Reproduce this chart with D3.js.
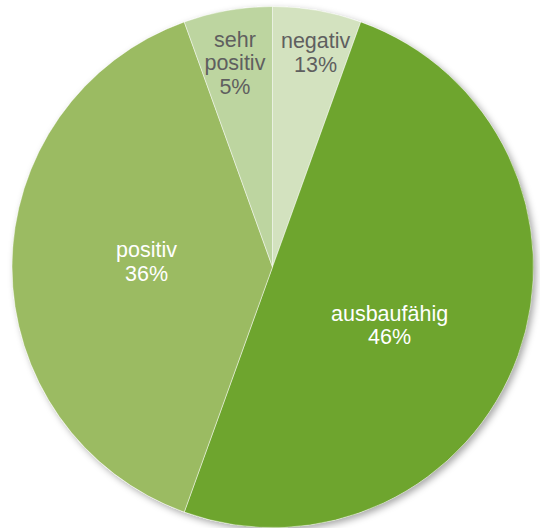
<!DOCTYPE html>
<html lang="de">
<head>
<meta charset="UTF-8">
<title>Pie</title>
<script src="https://d3js.org/d3.v7.min.js"></script>
<style>
  html, body { margin: 0; padding: 0; background: #fff; }
  text { font-family: "Liberation Sans", Arial, sans-serif; }
</style>
</head>
<body>
<div id="chart"></div>
<script>
// slice order clockwise from 12 o'clock
var categories = ["negativ", "ausbaufähig", "positiv", "sehr positiv"];
// slice sizes as drawn in the picture
var values = [5.5, 50, 39, 5.5];
// percentages printed on the labels
var percentLabels = ["13%", "46%", "36%", "5%"];

var colors = ["#d3e2bf", "#6ea52e", "#9bbb62", "#bdd5a0"];
var textColors = ["#5f5f5f", "#ffffff", "#ffffff", "#5f5f5f"];
// label placement: distance from centre and small nudges
var labelRadius = [210, 134, 126, 207];
var labelNudge = [[7, -2], [-9, 18], [0, 0], [-2, 5]];

var width = 540, height = 528,
  cx = 272.5, cy = 267, radius = 260.5;

var svg = d3.select('#chart').append('svg')
  .attr('width', width)
  .attr('height', height);

var defs = svg.append('defs');
var shadow = defs.append('filter')
  .attr('id', 'shadow')
  .attr('x', '-10%').attr('y', '-10%')
  .attr('width', '120%').attr('height', '120%');
shadow.append('feDropShadow')
  .attr('dx', 3).attr('dy', 3)
  .attr('stdDeviation', 3.5)
  .attr('flood-color', '#000')
  .attr('flood-opacity', 0.35);

var g = svg.append('g')
  .attr('transform', 'translate(' + cx + ',' + cy + ')');

var pie = d3.pie().sort(null).value(function(d) { return d; });
var arcs = pie(values);

var arc = d3.arc().innerRadius(0).outerRadius(radius);

// shadow layer under the whole disc
g.append('circle')
  .attr('r', radius)
  .attr('fill', '#fff')
  .attr('filter', 'url(#shadow)');

g.selectAll('path.slice').data(arcs)
  .enter().append('path')
  .attr('class', 'slice')
  .attr('d', arc)
  .attr('fill', function(d, i) { return colors[i]; })
  .attr('stroke', 'rgba(255,255,255,0.45)')
  .attr('stroke-width', 1);

var labels = g.selectAll('text.lbl').data(arcs)
  .enter().append('text')
  .attr('class', 'lbl')
  .attr('text-anchor', 'middle')
  .attr('font-size', '21.5px')
  .attr('fill', function(d, i) { return textColors[i]; })
  .attr('transform', function(d, i) {
    var r = labelRadius[i];
    var c = d3.arc().innerRadius(r).outerRadius(r).centroid(d);
    return 'translate(' + (c[0] + labelNudge[i][0]) + ',' + (c[1] + labelNudge[i][1]) + ')';
  });

labels.each(function(d, i) {
  var lines = categories[i].split(' ').concat([percentLabels[i]]);
  var t = d3.select(this);
  var lh = 23.5;
  var y0 = -(lines.length - 1) * lh / 2 + 2;
  lines.forEach(function(l, k) {
    t.append('tspan')
      .attr('x', 0)
      .attr('y', y0 + k * lh)
      .text(l);
  });
});
</script>
</body>
</html>
